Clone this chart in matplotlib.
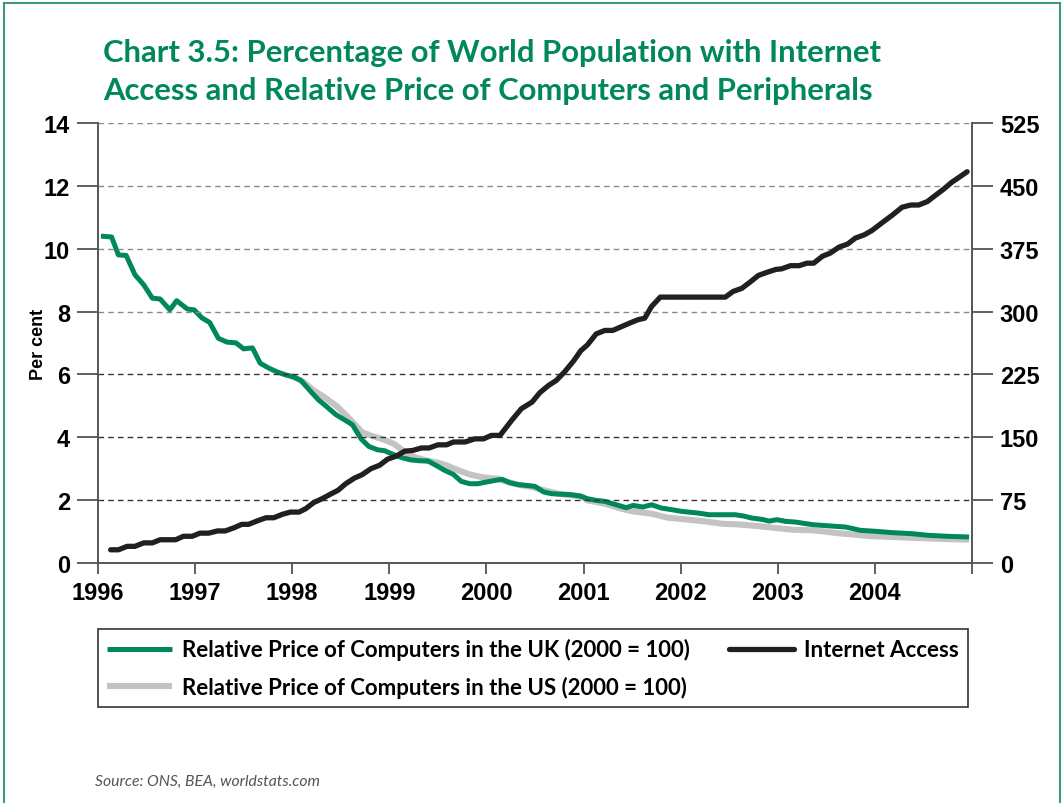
import matplotlib.pyplot as plt
from matplotlib.lines import Line2D
from matplotlib.font_manager import FontProperties

# Internet access, per cent of world population (left axis)
inet_t = [1996.13, 1996.21, 1996.30, 1996.38, 1996.47, 1996.56, 1996.64, 1996.80, 1996.88, 1996.97,
          1997.05, 1997.14, 1997.23, 1997.31, 1997.40, 1997.48, 1997.55, 1997.64, 1997.73, 1997.81, 1997.90, 1997.98,
          1998.07, 1998.14, 1998.22, 1998.31, 1998.40, 1998.47, 1998.55, 1998.64, 1998.72, 1998.81, 1998.90, 1998.98,
          1999.07, 1999.16, 1999.24, 1999.33, 1999.41, 1999.50, 1999.59, 1999.66, 1999.78, 1999.88, 1999.97,
          2000.05, 2000.14, 2000.26, 2000.36, 2000.47, 2000.55, 2000.64, 2000.72, 2000.81, 2000.90, 2000.97,
          2001.04, 2001.13, 2001.22, 2001.30, 2001.39, 2001.48, 2001.56, 2001.63, 2001.70, 2001.79,
          2002.46, 2002.54, 2002.63, 2002.72, 2002.80, 2002.89, 2002.98,
          2003.04, 2003.13, 2003.22, 2003.30, 2003.37, 2003.46, 2003.54, 2003.63, 2003.72, 2003.80, 2003.89, 2003.97,
          2004.08, 2004.18, 2004.28, 2004.37, 2004.45, 2004.54, 2004.62, 2004.71, 2004.79, 2004.88, 2004.95]
inet_pct = [0.42, 0.42, 0.53, 0.53, 0.64, 0.64, 0.74, 0.74, 0.85, 0.85,
            0.95, 0.95, 1.02, 1.02, 1.12, 1.23, 1.23, 1.34, 1.44, 1.44, 1.55, 1.62,
            1.62, 1.73, 1.92, 2.05, 2.20, 2.31, 2.52, 2.70, 2.81, 3.00, 3.11, 3.30,
            3.40, 3.56, 3.58, 3.66, 3.66, 3.76, 3.76, 3.85, 3.85, 3.95, 3.95,
            4.06, 4.06, 4.54, 4.91, 5.12, 5.42, 5.65, 5.81, 6.10, 6.44, 6.75,
            6.94, 7.29, 7.40, 7.40, 7.52, 7.64, 7.74, 7.79, 8.16, 8.46,
            8.46, 8.64, 8.74, 8.95, 9.15, 9.25, 9.34,
            9.36, 9.46, 9.46, 9.54, 9.54, 9.76, 9.86, 10.05, 10.15, 10.34, 10.44, 10.58,
            10.84, 11.07, 11.32, 11.39, 11.39, 11.50, 11.69, 11.90, 12.11, 12.30, 12.45]

# Relative price of computers in the UK, 2000 = 100 (right axis)
uk_t = [1996.03, 1996.14, 1996.21, 1996.29, 1996.38, 1996.47, 1996.56, 1996.64, 1996.74, 1996.81, 1996.92, 1996.99,
        1997.07, 1997.15, 1997.24, 1997.33, 1997.42, 1997.50, 1997.59, 1997.67, 1997.76, 1997.85, 1997.93,
        1998.02, 1998.09, 1998.19, 1998.27, 1998.36, 1998.45, 1998.55, 1998.62, 1998.71, 1998.79, 1998.88, 1998.95,
        1999.03, 1999.12, 1999.22, 1999.31, 1999.40, 1999.48, 1999.57, 1999.66, 1999.74, 1999.83, 1999.91,
        2000.00, 2000.09, 2000.16, 2000.24, 2000.33, 2000.41, 2000.50, 2000.59, 2000.67, 2000.78, 2000.87, 2000.96,
        2001.04, 2001.13, 2001.22, 2001.30, 2001.44, 2001.51, 2001.61, 2001.70, 2001.80, 2001.91,
        2002.01, 2002.18, 2002.29, 2002.42, 2002.56, 2002.65, 2002.73, 2002.84, 2002.91, 2002.99,
        2003.08, 2003.18, 2003.29, 2003.36, 2003.46, 2003.60, 2003.70, 2003.85,
        2004.01, 2004.18, 2004.38, 2004.55, 2004.76, 2004.97]
uk_price = [390, 389, 367.6, 367, 344, 332, 316, 315, 302, 313, 303, 302,
            292.5, 287, 268, 263.5, 262.7, 255.5, 256.7, 238.4, 232.5, 227.7, 224.5,
            221.7, 217.8, 204.7, 194.7, 186, 177, 170, 165, 148, 139, 135, 134,
            130, 126, 123, 122, 121.6, 116.5, 110.5, 105.7, 97.4, 94.6, 94.6,
            96.6, 98.6, 99.8, 95.8, 93.4, 92.6, 91.4, 84.7, 82.7, 82, 81.5, 80,
            76.7, 74.7, 73.5, 70.7, 66, 68.7, 66.8, 69.5, 65.6, 63.6,
            61.6, 59.6, 57.6, 57.6, 57.6, 56, 53.7, 52, 50, 51.7,
            49.7, 48.9, 46.9, 45.7, 44.9, 43.7, 42.9, 39,
            37.8, 36.2, 35, 33, 31.8, 31]

# Relative price of computers in the US, 2000 = 100 (right axis)
us_t = [1997.98, 1998.12, 1998.22, 1998.33, 1998.40, 1998.46, 1998.54, 1998.64, 1998.72, 1998.81, 1998.90, 1998.97,
        1999.05, 1999.14, 1999.22, 1999.31, 1999.40, 1999.50, 1999.59, 1999.67, 1999.76, 1999.84, 1999.95,
        2000.03, 2000.12, 2000.22, 2000.33, 2000.47, 2000.60, 2000.74, 2000.88, 2000.98,
        2001.04, 2001.22, 2001.39, 2001.51, 2001.70, 2001.87,
        2002.08, 2002.25, 2002.42, 2002.60, 2002.80, 2002.98,
        2003.15, 2003.36, 2003.46, 2003.60, 2003.94,
        2004.28, 2004.62, 2004.97]
us_price = [224, 215.8, 205.9, 198, 192, 187, 178, 166, 156, 152, 149, 146,
            142, 134, 128, 124.4, 122, 119.6, 116.5, 112.5, 108.5, 105.3, 102.5,
            101.3, 100.5, 96.6, 93.4, 90.6, 86.6, 82.7, 80.7, 79.5,
            74.7, 70.7, 64.8, 61.6, 58.8, 54,
            51.7, 49.7, 46.9, 46, 44, 41.7,
            39.7, 39, 37.8, 35.8, 32.2,
            30.6, 29, 27.8]

years = list(range(1996, 2006))
year_labels = [str(y) for y in years[:-1]] + ['']
left_ticks = list(range(0, 15, 2))
right_ticks = list(range(0, 526, 75))

green = '#00875a'
grey = '#c3c3c3'
black = '#231f20'
humanist = ['Lato', 'Liberation Sans', 'DejaVu Sans']
plain = ['Liberation Sans', 'DejaVu Sans']
tick_font = FontProperties(family='Liberation Sans', weight='bold', size=17)

plt.rcParams['font.family'] = plain

fig = plt.figure(figsize=(10.64, 8.04), dpi=100)
ax = fig.add_axes([98 / 1064, 1 - 564 / 804, 874 / 1064, 440 / 804])
ax2 = ax.twinx()
# keep the internet line above the price lines
ax.set_zorder(ax2.get_zorder() + 1)
ax.patch.set_visible(False)

l_us, = ax2.plot(us_t, us_price, color=grey, lw=4.4, solid_capstyle='butt',
                 solid_joinstyle='round', label='Relative Price of Computers in the US (2000 = 100)')
l_uk, = ax2.plot(uk_t, uk_price, color=green, lw=3.6, solid_capstyle='butt',
                 solid_joinstyle='round', label='Relative Price of Computers in the UK (2000 = 100)')
l_in, = ax.plot(inet_t, inet_pct, color=black, lw=3.8, solid_capstyle='round',
                solid_joinstyle='round', label='Internet Access')

ax.set_xlim(1996, 2005)
ax.set_ylim(0, 14)
ax2.set_ylim(0, 525)
ax.set_xticks(years)
ax.set_xticklabels(year_labels, fontproperties=tick_font)
ax.set_yticks(left_ticks)
ax.set_yticklabels([str(v) for v in left_ticks], fontproperties=tick_font)
ax2.set_yticks(right_ticks)
ax2.set_yticklabels([str(v) for v in right_ticks], fontproperties=tick_font)

ax.tick_params(axis='y', direction='out', length=15, width=1.2, pad=5, color='#444')
ax.tick_params(axis='x', direction='out', length=8, width=1.2, pad=5, color='#444')
ax2.tick_params(axis='y', direction='out', length=15, width=1.2, pad=5, color='#444')

for a in (ax, ax2):
    a.spines['top'].set_visible(False)
    for s in ('left', 'right', 'bottom'):
        a.spines[s].set_color('#555555')
        a.spines[s].set_linewidth(1.2)

# dashed gridlines, lighter in the upper half
ax.yaxis.grid(True, linestyle=(0, (4, 3)), linewidth=1.0)
for val, gl in zip(left_ticks, ax.get_ygridlines()):
    gl.set_color('#8a8a8a' if val >= 8 else '#333333')
    if val == 0:
        gl.set_visible(False)

ax.set_ylabel('Per cent', fontproperties=FontProperties(family='Liberation Sans', weight='bold', size=13))
ax.yaxis.set_label_coords((47 - 98) / 874, 0.5)

fig.text(103 / 1064, 1 - 62 / 804, 'Chart 3.5: Percentage of World Population with Internet',
         color=green, fontsize=22.3, fontweight='bold', family=humanist, va='baseline')
fig.text(103 / 1064, 1 - 100 / 804, 'Access and Relative Price of Computers and Peripherals',
         color=green, fontsize=22.3, fontweight='bold', family=humanist, va='baseline')

leg = fig.legend([l_uk, l_us, l_in], [l_uk.get_label(), l_us.get_label(), l_in.get_label()],
                 loc='upper left', bbox_to_anchor=(98 / 1064, 1 - 707 / 804, 870 / 1064, 77 / 804),
                 mode='expand', ncol=2, fancybox=False, edgecolor='#333333', framealpha=1,
                 prop={'family': humanist, 'weight': 'bold', 'size': 16},
                 handlelength=2.9, handletextpad=0.45, borderaxespad=0, borderpad=0.42,
                 labelspacing=0.68, columnspacing=1.5)
leg.get_frame().set_linewidth(1.2)

fig.text(95 / 1064, 1 - 786 / 804, 'Source: ONS, BEA, worldstats.com', color='#555555',
         fontsize=11.3, style='italic', family=humanist, va='baseline')

# thin green frame around the page
frame = dict(color='#3d9a78', lw=1.5, transform=fig.transFigure)
fig.add_artist(Line2D([4 / 1064, 1060 / 1064], [1 - 4 / 804, 1 - 4 / 804], **frame))
fig.add_artist(Line2D([4 / 1064, 4 / 1064], [0, 1 - 4 / 804], **frame))
fig.add_artist(Line2D([1060 / 1064, 1060 / 1064], [0, 1 - 4 / 804], **frame))

fig.savefig('out.png', dpi=100)
